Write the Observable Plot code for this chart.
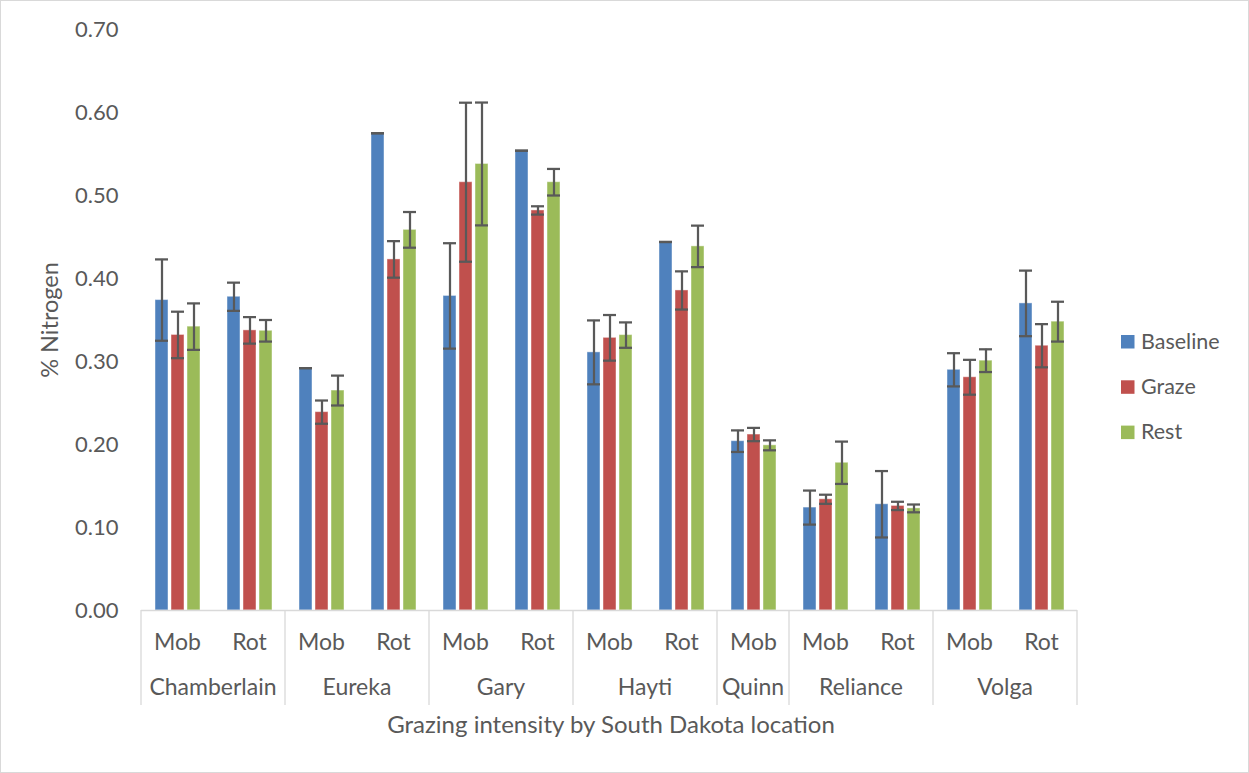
<!DOCTYPE html>
<html>
<head>
<meta charset="utf-8">
<script src="https://cdn.jsdelivr.net/npm/d3@7"></script>
<script src="https://cdn.jsdelivr.net/npm/@observablehq/plot@0.6"></script>
<style>
  html, body { margin: 0; padding: 0; background: #ffffff; }
  #chart { width: 1249px; height: 773px; }
</style>
</head>
<body>
<div id="chart"></div>
<script>
// ---- data ----
const locations = ["Chamberlain","Chamberlain","Eureka","Eureka","Gary","Gary","Hayti","Hayti","Quinn","Reliance","Reliance","Volga","Volga"];
const methods   = ["Mob","Rot","Mob","Rot","Mob","Rot","Mob","Rot","Mob","Mob","Rot","Mob","Rot"];
const series    = ["Baseline","Graze","Rest"];
const seriesColors = ["#4F81BD","#C0504D","#9BBB59"];

const baseline    = [0.374, 0.378, 0.292, 0.575, 0.379, 0.554, 0.311, 0.444, 0.204, 0.124, 0.128, 0.290, 0.370];
const baselineErr = [0.049, 0.017, 0.000, 0.000, 0.0635, 0.000, 0.0385, 0.000, 0.013, 0.0205, 0.040, 0.020, 0.0395];
const graze       = [0.332, 0.3375, 0.239, 0.423, 0.516, 0.482, 0.3285, 0.3856, 0.212, 0.134, 0.126, 0.281, 0.319];
const grazeErr    = [0.028, 0.016, 0.014, 0.022, 0.0958, 0.005, 0.0275, 0.023, 0.008, 0.0055, 0.005, 0.021, 0.026];
const rest        = [0.342, 0.337, 0.265, 0.4586, 0.538, 0.516, 0.3318, 0.4387, 0.199, 0.178, 0.123, 0.301, 0.348];
const restErr     = [0.028, 0.013, 0.018, 0.0215, 0.074, 0.016, 0.0153, 0.025, 0.006, 0.0255, 0.0047, 0.0137, 0.024];

const yTicks = [0, 0.1, 0.2, 0.3, 0.4, 0.5, 0.6, 0.7];
const yTitle = "% Nitrogen";
const xTitle = "Grazing intensity by South Dakota location";

// ---- build table ----
const valueBy = {Baseline: baseline, Graze: graze, Rest: rest};
const errBy = {Baseline: baselineErr, Graze: grazeErr, Rest: restErr};
const cats = locations.map((l, i) => l + "|" + methods[i]);
const data = [];
cats.forEach((c, i) => {
  series.forEach(s => {
    data.push({cat: c, loc: locations[i], method: methods[i], series: s, value: valueBy[s][i], err: errBy[s][i]});
  });
});

const FONT = "Lato, 'Open Sans', sans-serif";
const TEXT = "#595959";
const ERR = "#595959";
const GRID = "#d9d9d9";

const plot = Plot.plot({
  width: 1249,
  height: 773,
  marginLeft: 140,
  marginRight: 172,
  marginTop: 29,
  marginBottom: 163,
  style: {fontFamily: FONT, fontSize: "20px", color: TEXT, background: "#ffffff", overflow: "visible"},
  fx: {domain: cats, paddingInner: 0.334, paddingOuter: 0.167},
  x: {domain: series, paddingInner: 0.2, paddingOuter: 0.1, axis: null},
  y: {domain: [0, 0.7]},
  color: {domain: series, range: seriesColors},
  marks: [
    Plot.axisY({ticks: yTicks, tickFormat: d3.format(".2f"), tickSize: 0, tickPadding: 35, fontSize: 22, label: null}),
    Plot.axisFx({anchor: "bottom", tickSize: 0, tickPadding: 23, fontSize: 23, tickFormat: d => d.split("|")[1], label: null}),
    Plot.barY(data, {fx: "cat", x: "series", y: "value", fill: "series", stroke: "#ffffff", strokeOpacity: 0.45, strokeWidth: 1}),
    Plot.ruleX(data, {fx: "cat", x: "series", y1: d => d.value - d.err, y2: d => d.value + d.err, stroke: ERR, strokeWidth: 2.25}),
    Plot.tickY(data, {fx: "cat", x: "series", y: d => d.value + d.err, stroke: ERR, strokeWidth: 2.25}),
    Plot.tickY(data, {fx: "cat", x: "series", y: d => d.value - d.err, stroke: ERR, strokeWidth: 2.25})
  ]
});

document.getElementById("chart").appendChild(plot);

// ---- extras drawn from the plot's own scales ----
const svg = d3.select(plot);
const fx = plot.scale("fx");
const y = plot.scale("y");
const color = plot.scale("color");
const step = fx.step, bw = fx.bandwidth;
const half = (step - bw) / 2;
const y0 = y.apply(0);

const extras = svg.append("g").attr("font-family", FONT).attr("fill", TEXT);

// outer chart border
extras.append("rect").attr("x", 0.5).attr("y", 0.5).attr("width", 1248).attr("height", 772)
  .attr("fill", "none").attr("stroke", GRID).attr("stroke-width", 1);

// group spans
const groups = [];
locations.forEach((l, i) => {
  const g = groups.find(g => g.loc === l);
  if (g) g.last = cats[i]; else groups.push({loc: l, first: cats[i], last: cats[i]});
});
const xLeft = fx.apply(cats[0]) - half;
const xRight = fx.apply(cats[cats.length - 1]) + bw + half;

// axis line
extras.append("line").attr("x1", xLeft).attr("x2", xRight).attr("y1", y0 + 0.5).attr("y2", y0 + 0.5)
  .attr("stroke", GRID).attr("stroke-width", 1.3);

groups.forEach(g => {
  const a = fx.apply(g.first) - half;
  const b = fx.apply(g.last) + bw + half;
  extras.append("line").attr("x1", a).attr("x2", a).attr("y1", y0).attr("y2", 705)
    .attr("stroke", GRID).attr("stroke-width", 1.3);
  extras.append("text").attr("x", (a + b) / 2).attr("y", 695).attr("text-anchor", "middle")
    .attr("font-size", 23).text(g.loc);
});
extras.append("line").attr("x1", xRight).attr("x2", xRight).attr("y1", y0).attr("y2", 705)
  .attr("stroke", GRID).attr("stroke-width", 1.3);

// axis titles
extras.append("text").attr("transform", "translate(58,320) rotate(-90)").attr("text-anchor", "middle")
  .attr("font-size", 23.5).text(yTitle);
extras.append("text").attr("x", 611).attr("y", 733).attr("text-anchor", "middle")
  .attr("font-size", 24).text(xTitle);

// legend
series.forEach((s, i) => {
  const by = 348.5 + i * 45.3;
  extras.append("rect").attr("x", 1121).attr("y", by - 13.5).attr("width", 13.5).attr("height", 13.5).attr("fill", color.apply(s));
  extras.append("text").attr("x", 1141).attr("y", by).attr("text-anchor", "start")
    .attr("font-size", 21.5).text(s);
});
</script>
</body>
</html>
